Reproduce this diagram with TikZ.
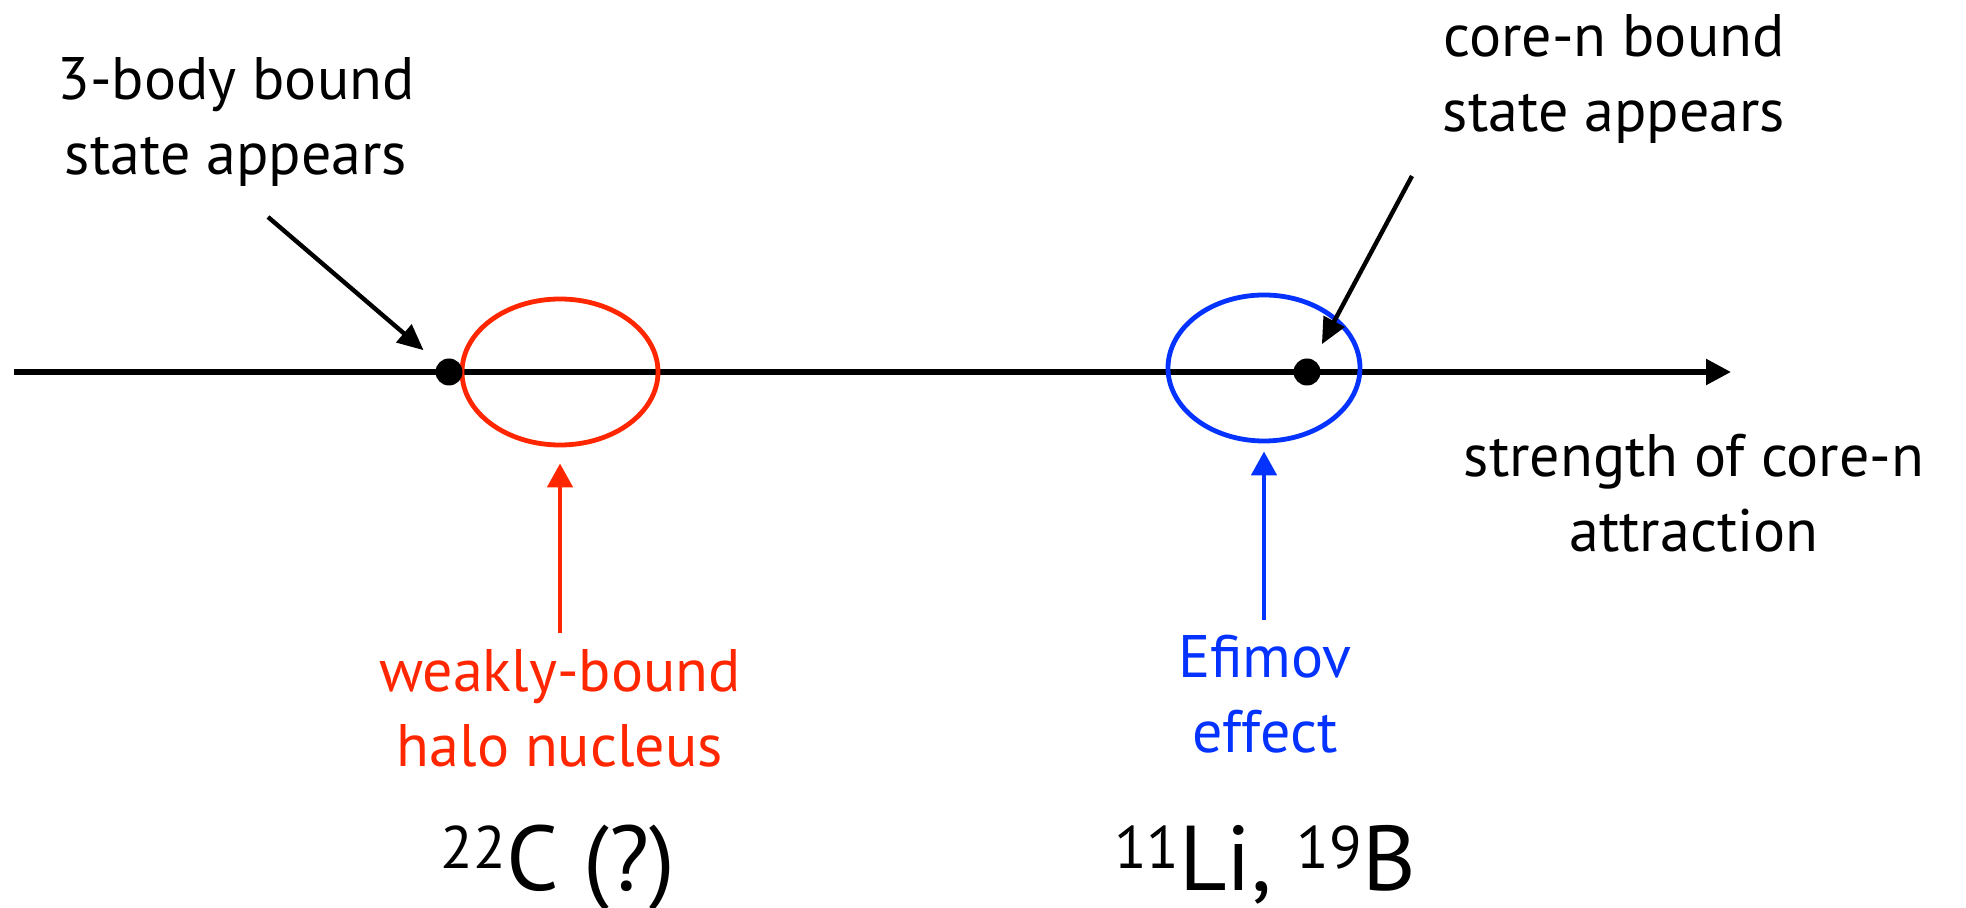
\documentclass[tikz,border=0pt]{standalone}
\usepackage{fontspec}
\setmainfont{PT Sans}
\usetikzlibrary{arrows.meta,shapes.geometric}
\definecolor{kred}{HTML}{FF2600}
\definecolor{kblue}{HTML}{0433FF}
\newcommand\isot[2]{\raisebox{11pt}{\fontsize{30}{36}\selectfont #1}#2}
\tikzset{
  lbl/.style={anchor=base,align=center,font=\fontsize{30}{37.5}\selectfont,inner sep=0pt},
  big/.style={anchor=base,align=center,font=\fontsize{46}{52}\selectfont,inner sep=0pt},
  dotnode/.style={circle,fill=black,minimum size=13.5pt,inner sep=0pt,outer sep=0pt},
  ring/.style={ellipse,draw,line width=2.4pt,inner sep=0pt,outer sep=1.2pt},
  pointer/.style={line width=2.2pt,-{Triangle[length=13pt,width=11.5pt]}},
  upar/.style={line width=2.4pt,-{Triangle[length=12pt,width=12.5pt]}}
}
\begin{document}
\begin{tikzpicture}[x=0.5pt,y=-0.5pt]
\useasboundingbox (0,0) rectangle (1966,908);
% axis
\coordinate (axs) at (14,372);
\coordinate (axe) at (1731,372);
\draw[line width=2.7pt,-{Triangle[length=12.5pt,width=12.5pt]}] (axs) -- (axe);
% rings
\node[ring,draw=kred,minimum width=98pt,minimum height=73pt] (rr) at (560,372) {};
\node[ring,draw=kblue,minimum width=96pt,minimum height=73pt] (br) at (1264,368) {};
% dots
\node[dotnode] (dl) at (449,372) {};
\node[dotnode] (dr) at (1307,372) {};
% texts (anchor = baseline of last line)
\node[lbl] (t3) at (236,175) {3-body bound\\state appears};
\node[lbl] (tc) at (1614,132) {core-n bound\\state appears};
\node[lbl] (ta) at (1694,552) {strength of core-n\\attraction};
\node[lbl,text=kred] (th) at (560,767) {weakly-bound\\halo nucleus};
\node[lbl,text=kblue] (te) at (1265,753) {Efimov\\effect};
\node[big] (c22) at (558,890) {\isot{22}{C} (?)};
\node[big] (li) at (1265,890) {\isot{11}{Li}, \isot{19}{B}};
% pointers
\coordinate (p1) at (268,217);
\coordinate (p2) at (1412,176);
\draw[pointer,shorten >=10pt] (p1) -- (dl);
\draw[pointer,shorten >=9pt] (p2) -- (dr);
\coordinate (rs) at (560,633);
\coordinate (bs) at (1264,620);
\draw[upar,kred,shorten >=8pt] (rs) -- (rr.south);
\draw[upar,kblue,shorten >=4pt] (bs) -- (br.south);
\end{tikzpicture}
\end{document}
